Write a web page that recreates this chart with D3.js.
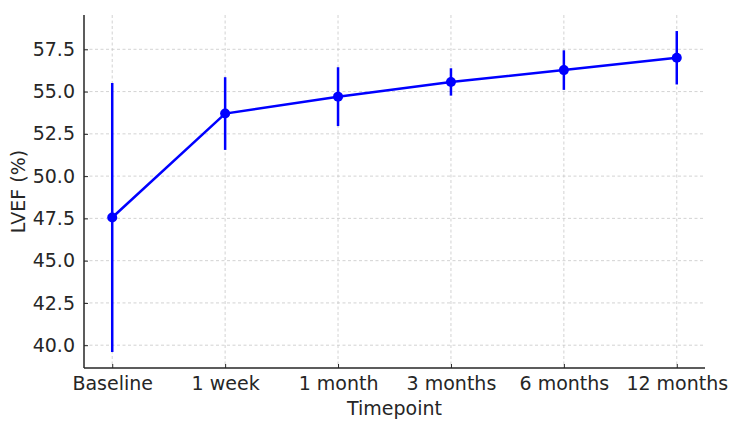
<!DOCTYPE html>
<html>
<head>
<meta charset="utf-8">
<script src="https://cdn.jsdelivr.net/npm/d3@7"></script>
<style>
  body { margin: 0; background: #fff; }
  text { font-family: "DejaVu Sans", sans-serif; fill: #262626; }
</style>
</head>
<body>
<div id="chart"></div>
<script>
// data
var timepoints = ["Baseline", "1 week", "1 month", "3 months", "6 months", "12 months"];
var lvefMean = [47.55, 53.7, 54.7, 55.57, 56.27, 57.0];
var lvefErr = [7.95, 2.15, 1.74, 0.81, 1.17, 1.58];
var yTicks = [40.0, 42.5, 45.0, 47.5, 50.0, 52.5, 55.0, 57.5];

var width = 739, height = 429;
var margin = {top: 15, right: 34, bottom: 61, left: 84};
var blue = "#0000ff";
var fontSize = 19;

var svg = d3.select("#chart").append("svg")
  .attr("width", width)
  .attr("height", height);

var rows = timepoints.map(function(t, i) {
  return {t: t, v: lvefMean[i], lo: lvefMean[i] - lvefErr[i], hi: lvefMean[i] + lvefErr[i]};
});

// matplotlib-ish 5% margins
var lo = d3.min(rows, d => d.lo), hi = d3.max(rows, d => d.hi);
var pad = (hi - lo) * 0.05;

var x = d3.scalePoint()
  .domain(timepoints)
  .range([margin.left, width - margin.right])
  .padding(0.25);

var y = d3.scaleLinear()
  .domain([lo - pad, hi + pad])
  .range([height - margin.bottom, margin.top]);

// grid
var grid = svg.append("g");
grid.selectAll(".gx")
  .data(timepoints)
  .enter().append("line")
  .attr("x1", d => x(d)).attr("x2", d => x(d))
  .attr("y1", margin.top).attr("y2", height - margin.bottom)
  .attr("stroke", "#c8c8c8").attr("stroke-width", 0.8)
  .attr("stroke-dasharray", "3,2.5");
grid.selectAll(".gy")
  .data(yTicks)
  .enter().append("line")
  .attr("x1", margin.left).attr("x2", width - margin.right)
  .attr("y1", d => y(d)).attr("y2", d => y(d))
  .attr("stroke", "#c8c8c8").attr("stroke-width", 0.8)
  .attr("stroke-dasharray", "3,2.5");

// axes
var xAxis = svg.append("g")
  .attr("transform", "translate(0," + (height - margin.bottom) + ")")
  .call(d3.axisBottom(x).tickSize(-4).tickPadding(9));
var yAxis = svg.append("g")
  .attr("transform", "translate(" + margin.left + ",0)")
  .call(d3.axisLeft(y).tickValues(yTicks).tickFormat(d3.format(".1f")).tickSize(-4).tickPadding(9));

[xAxis, yAxis].forEach(function(a) {
  a.attr("font-size", fontSize).attr("font-family", "DejaVu Sans, sans-serif");
  a.select(".domain").attr("stroke", "#262626").attr("stroke-width", 1.5);
  a.selectAll(".tick line").attr("stroke", "#262626").attr("stroke-width", 1);
  a.selectAll(".tick text").attr("fill", "#262626");
});
// spines only, no outer ticks
xAxis.select(".domain").attr("d", "M" + margin.left + ",0H" + (width - margin.right));
yAxis.select(".domain").attr("d", "M0," + (height - margin.bottom) + "V" + margin.top);

// error bars
svg.selectAll(".err")
  .data(rows)
  .enter().append("line")
  .attr("x1", d => x(d.t)).attr("x2", d => x(d.t))
  .attr("y1", d => y(d.lo)).attr("y2", d => y(d.hi))
  .attr("stroke", blue).attr("stroke-width", 2.5);

// line
svg.append("path")
  .datum(rows)
  .attr("fill", "none")
  .attr("stroke", blue)
  .attr("stroke-width", 2.5)
  .attr("d", d3.line().x(d => x(d.t)).y(d => y(d.v)));

svg.selectAll(".pt")
  .data(rows)
  .enter().append("circle")
  .attr("cx", d => x(d.t)).attr("cy", d => y(d.v))
  .attr("r", 5)
  .attr("fill", blue);

// labels
svg.append("text")
  .attr("x", (margin.left + width - margin.right) / 2)
  .attr("y", 415)
  .attr("text-anchor", "middle")
  .attr("font-size", fontSize)
  .text("Timepoint");

svg.append("text")
  .attr("transform", "translate(25," + ((margin.top + height - margin.bottom) / 2) + ") rotate(-90)")
  .attr("text-anchor", "middle")
  .attr("font-size", fontSize)
  .text("LVEF (%)");
</script>
</body>
</html>
